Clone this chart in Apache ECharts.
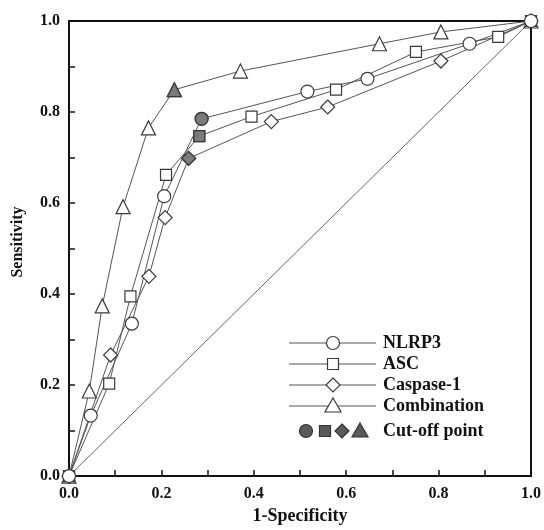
<!DOCTYPE html>
<html><head><meta charset="utf-8">
<script src="https://cdn.jsdelivr.net/npm/echarts@6/dist/echarts.min.js"></script>
<style>html,body{margin:0;padding:0;background:#fff}#c{width:544px;height:530px}</style>
</head><body><div id="c"></div>
<script>
// ROC curves: [1-Specificity, Sensitivity]
const nlrp3 = [[0,0],[0.047,0.133],[0.136,0.335],[0.206,0.615],[0.287,0.785],[0.516,0.845],[0.646,0.873],[0.867,0.950],[1,1]];
const asc = [[0,0],[0.087,0.203],[0.133,0.395],[0.210,0.662],[0.282,0.747],[0.395,0.790],[0.578,0.849],[0.751,0.932],[0.929,0.965],[1,1]];
const caspase1 = [[0,0],[0.090,0.266],[0.173,0.439],[0.208,0.568],[0.259,0.698],[0.438,0.779],[0.560,0.811],[0.805,0.912],[1,1]];
const combination = [[0,0],[0.044,0.187],[0.072,0.374],[0.117,0.592],[0.172,0.765],[0.228,0.849],[0.371,0.890],[0.672,0.950],[0.805,0.976],[1,1]];
const reference = [[0,0],[1,1]];
// cut-off points
const cutNLRP3 = [[0.287,0.785]];
const cutASC = [[0.282,0.747]];
const cutCaspase1 = [[0.259,0.698]];
const cutCombination = [[0.228,0.849]];
const seriesNames = ['NLRP3','ASC','Caspase-1','Combination'];
const cutLabel = 'Cut-off point';
const xTitle = '1-Specificity';
const yTitle = 'Sensitivity';

const font = '"Liberation Serif", "Times New Roman", serif';
const lineCol = '#555';
const edge = '#3a3a3a';
const fillCut = '#5a5a5a';
const tri = 'path://M0,-10L10,8L-10,8Z';

function lineSeries(name, data, symbol, size){
  return {name, type:'line', data, symbol, symbolSize:size, z:3,
    lineStyle:{color:lineCol,width:1}, itemStyle:{color:'#fff',borderColor:edge,borderWidth:1.2},
    emphasis:{disabled:true}, animation:false};
}
function cutSeries(data, symbol, size){
  return {type:'scatter', data, symbol, symbolSize:size, z:5,
    itemStyle:{color:fillCut,borderColor:'#333',borderWidth:1.2}, animation:false};
}

const chart = echarts.init(document.getElementById('c'));
const axisCommon = {
  type:'value', min:0, max:1, interval:0.1,
  axisLine:{show:true,lineStyle:{color:'#111',width:2}},
  axisTick:{show:true,inside:true,length:6,lineStyle:{color:'#111',width:1.5}},
  splitLine:{show:false},
  axisLabel:{fontFamily:font,fontWeight:'bold',fontSize:16,color:'#111',
    formatter:v=> (Math.round(v*10)%2===0 ? v.toFixed(1) : '')},
  nameTextStyle:{fontFamily:font,fontWeight:'bold',fontSize:18,color:'#111'}
};

// legend via graphic
const lx1=289, lx2=376, lmx=333, tx=383;
const rowsY=[343,364,385,406];
const legendSymbols=['circle','rect','diamond','triangle'];
const g=[];
function symbolShape(kind,cx,cy,fill,stroke){
  if(kind==='circle') return {type:'circle',shape:{cx,cy,r:6.5},style:{fill,stroke,lineWidth:1.2},z:10};
  if(kind==='rect') return {type:'rect',shape:{x:cx-5.5,y:cy-5.5,width:11,height:11},style:{fill,stroke,lineWidth:1.2},z:10};
  if(kind==='diamond') return {type:'polygon',shape:{points:[[cx,cy-7],[cx+7,cy],[cx,cy+7],[cx-7,cy]]},style:{fill,stroke,lineWidth:1.2},z:10};
  return {type:'polygon',shape:{points:[[cx,cy-8],[cx+8,cy+6],[cx-8,cy+6]]},style:{fill,stroke,lineWidth:1.2},z:10};
}
seriesNames.forEach((n,i)=>{
  const y=rowsY[i];
  g.push({type:'line',shape:{x1:lx1,y1:y,x2:lx2,y2:y},style:{stroke:lineCol,lineWidth:1},z:9});
  g.push(symbolShape(legendSymbols[i],lmx,y,'#fff',edge));
  g.push({type:'text',x:tx,y:y,style:{text:n,font:'bold 18px '+font,fill:'#111',verticalAlign:'middle'},z:10});
});
const cy=431;
[306,325,342,360].forEach((cx,i)=>g.push(symbolShape(legendSymbols[i],cx,cy,fillCut,'#333')));
g.push({type:'text',x:tx,y:cy,style:{text:cutLabel,font:'bold 18px '+font,fill:'#111',verticalAlign:'middle'},z:10});
// y-axis title
g.push({type:'text',x:18,y:242,rotation:Math.PI/2,style:{text:yTitle,font:'bold 16px '+font,fill:'#111',align:'center',verticalAlign:'middle'},z:10});

chart.setOption({
  backgroundColor:'#fff',
  animation:false,
  grid:{left:69,top:21,width:465,height:463,show:true,borderColor:'#111',borderWidth:2,backgroundColor:'transparent'},
  xAxis:Object.assign({},axisCommon,{name:xTitle,nameLocation:'middle',nameGap:29,
    axisLabel:Object.assign({},axisCommon.axisLabel,{margin:10})}),
  yAxis:Object.assign({},axisCommon,{
    axisLabel:Object.assign({},axisCommon.axisLabel,{margin:9})}),
  graphic:g,
  series:[
    {type:'line',data:reference,symbol:'none',lineStyle:{color:'#666',width:1},z:2,animation:false},
    lineSeries(seriesNames[3],combination,tri,14),
    lineSeries(seriesNames[2],caspase1,'diamond',14),
    lineSeries(seriesNames[1],asc,'rect',11),
    lineSeries(seriesNames[0],nlrp3,'circle',13),
    cutSeries(cutCombination,tri,14),
    cutSeries(cutCaspase1,'diamond',14),
    cutSeries(cutASC,'rect',11),
    cutSeries(cutNLRP3,'circle',13)
  ]
});
</script></body></html>
